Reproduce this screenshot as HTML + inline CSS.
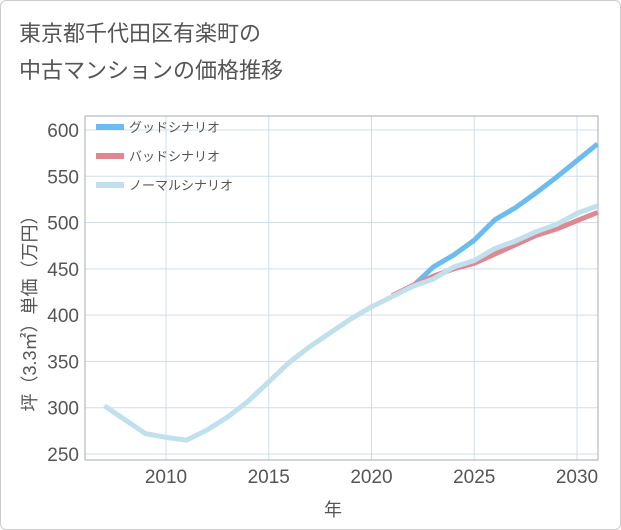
<!DOCTYPE html>
<html><head><meta charset="utf-8"><style>
body{margin:0;background:#fff;font-family:"Liberation Sans","Noto Sans CJK JP",sans-serif;}
#wrap{position:relative;width:619px;height:528px;border:1px solid #ccc;border-radius:6px;overflow:hidden;}
</style></head><body>
<div id="wrap">
<svg id="chart" width="621" height="530"></svg>
</div>
<script>
const years=[2007,2008,2009,2010,2011,2012,2013,2014,2015,2016,2017,2018,2019,2020,2021,2022,2023,2024,2025,2026,2027,2028,2029,2030,2031];
const normal=[302,287,272,268,265,276,290,307,328,349,366,381,396,409,420,431,439,452,459,472,480,490,498,510,518];
const goodYears=[2022,2023,2024,2025,2026,2027,2028,2029,2030,2031];
const good=[431,452,465,481,503,516,532,549,567,585];
const badYears=[2021,2022,2023,2024,2025,2026,2027,2028,2029,2030,2031];
const bad=[421,432,442,450,456,466,476,486,493,502,511];
const yTicks=[250,300,350,400,450,500,550,600];
const xTicks=[2010,2015,2020,2025,2030];
const NS='http://www.w3.org/2000/svg';
const svg=document.getElementById('chart');
const L=84,R=597,T=115,B=459;
const x=v=>165+(v-2010)*(576-165)/20;
const y=v=>453-(v-250)*(453-129)/350;
function el(t,a,p){const e=document.createElementNS(NS,t);for(const k in a)e.setAttribute(k,a[k]);(p||svg).appendChild(e);return e;}
const title=el('text',{x:18,y:40,'font-size':22,fill:'#555'});


title.textContent='東京都千代田区有楽町の';
const title2=el('text',{x:18,y:77,'font-size':22,fill:'#555'});


title2.textContent='中古マンションの価格推移';
yTicks.forEach(v=>{
 const g=el('line',{x1:L,x2:R,y1:y(v),y2:y(v),stroke:'#cfdde9','stroke-width':1});
 
 
 const t=el('text',{x:78,y:y(v)+7,'font-size':19,fill:'#555','text-anchor':'end'});
 
 
 t.textContent=v;
});
xTicks.forEach(v=>{
 const g=el('line',{x1:x(v),x2:x(v),y1:T,y2:B,stroke:'#cfdde9','stroke-width':1});
 
 
 const t=el('text',{x:x(v),y:482,'font-size':19,fill:'#555','text-anchor':'middle'});
 
 
 t.textContent=v;
});
const frame=el('rect',{x:L,y:T,width:R-L,height:B-T,fill:'none',stroke:'#aab','stroke-width':1});


const xt=el('text',{x:332,y:515,'font-size':18,fill:'#555','text-anchor':'middle'});


xt.textContent='年';
const yt=el('text',{x:0,y:0,'font-size':18,fill:'#555','text-anchor':'middle',transform:'translate(35,308) rotate(-90)'});


yt.textContent='坪（3.3㎡）単価（万円）';
const clip=el('clipPath',{id:'pc'});el('rect',{x:L,y:T,width:R-L,height:B-T},clip);
function line(xs,vs,c,name){
 const p=el('polyline',{points:xs.map((v,i)=>x(v)+','+y(vs[i])).join(' '),fill:'none',stroke:c,'stroke-width':5,'stroke-linejoin':'round','clip-path':'url(#pc)'});
 
 
}
line(goodYears,good,'#6cbcf0','good-scenario-line');
line(badYears,bad,'#e08890','bad-scenario-line');
line(years,normal,'#bfe0ec','normal-scenario-line');
[['グッドシナリオ','#6cbcf0',126],['バッドシナリオ','#e08890',155],['ノーマルシナリオ','#bfe0ec',184]].forEach(([n,c,yy])=>{
 const s=el('line',{x1:95,x2:123,y1:yy,y2:yy,stroke:c,'stroke-width':6});
 
 
 const t=el('text',{x:128,y:yy+5,'font-size':13,fill:'#555'});
 
 
 t.textContent=n;
});
</script>
</body></html>
